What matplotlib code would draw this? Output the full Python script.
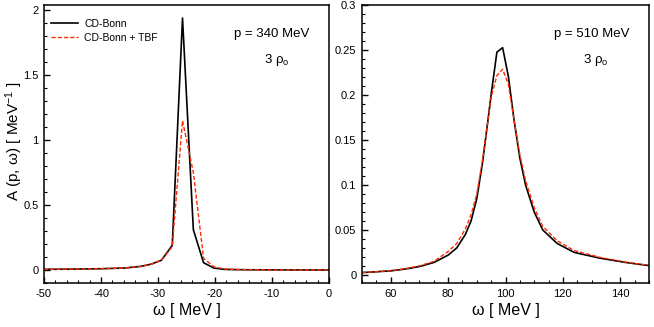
import matplotlib
matplotlib.use("Agg")
import matplotlib.pyplot as plt
from matplotlib.ticker import MultipleLocator, FormatStrFormatter

plt.rcParams["font.family"] = ["Liberation Sans", "DejaVu Sans"]
plt.rcParams["mathtext.fontset"] = "custom"
plt.rcParams["mathtext.rm"] = "Liberation Sans"
plt.rcParams["mathtext.it"] = "Liberation Sans"
plt.rcParams["axes.unicode_minus"] = False

# p = 340 MeV panel
omega_340 = [-50, -45, -40, -36, -34.8, -33.0, -31.2, -29.4, -27.5, -25.7, -23.8, -22.0, -20.2, -18.4, -16.5, -14, -10, -5, 0]
cdb_340 = [0.005, 0.007, 0.010, 0.015, 0.020, 0.028, 0.045, 0.075, 0.19, 1.94, 0.31, 0.056, 0.015, 0.005, 0.003, 0.002, 0.001, 0.0007, 0.0005]
tbf_340 = [0.005, 0.007, 0.010, 0.015, 0.020, 0.028, 0.045, 0.075, 0.18, 1.15, 0.75, 0.09, 0.025, 0.008, 0.004, 0.002, 0.001, 0.0007, 0.0005]

# p = 510 MeV panel
omega_510 = [50, 55, 60, 65, 70, 75, 80, 83, 86, 88, 90, 92, 94, 95, 97, 99, 101, 103, 105, 107, 110, 113, 118, 124, 133, 142, 150]
cdb_510 = [0.0026, 0.0035, 0.0045, 0.0065, 0.0093, 0.0138, 0.022, 0.030, 0.045, 0.060, 0.085, 0.125, 0.175, 0.201, 0.248, 0.253, 0.221, 0.172, 0.130, 0.100, 0.070, 0.050, 0.035, 0.025, 0.0186, 0.0138, 0.0104]
tbf_510 = [0.0026, 0.0036, 0.0047, 0.0069, 0.0100, 0.0150, 0.026, 0.035, 0.051, 0.067, 0.090, 0.128, 0.175, 0.198, 0.222, 0.229, 0.212, 0.172, 0.134, 0.105, 0.075, 0.054, 0.038, 0.027, 0.0195, 0.0142, 0.0106]

red = "#ff2a00"

fig = plt.figure(figsize=(6.54, 3.27), dpi=100)
ax1 = fig.add_axes([44 / 654, 44 / 327, 285 / 654, 278 / 327])
ax2 = fig.add_axes([362 / 654, 44 / 327, 287 / 654, 278 / 327])

ax1.plot(omega_340, cdb_340, color="black", lw=1.2, label="CD-Bonn")
ax1.plot(omega_340, tbf_340, color=red, lw=1.0, ls=(0, (3, 1.5)), label="CD-Bonn + TBF")
ax2.plot(omega_510, cdb_510, color="black", lw=1.2)
ax2.plot(omega_510, tbf_510, color=red, lw=1.0, ls=(0, (3, 1.5)))

ax1.set_xlim(-50, 0)
ax1.set_ylim(-0.1, 2.04)
ax1.xaxis.set_major_locator(MultipleLocator(10))
ax1.xaxis.set_minor_locator(MultipleLocator(2))
ax1.yaxis.set_major_locator(MultipleLocator(0.5))
ax1.yaxis.set_minor_locator(MultipleLocator(0.1))
ax1.yaxis.set_major_formatter(FormatStrFormatter("%g"))

ax2.set_xlim(50, 150)
ax2.set_ylim(-0.009, 0.3005)
ax2.xaxis.set_major_locator(MultipleLocator(20))
ax2.xaxis.set_minor_locator(MultipleLocator(5))
ax2.yaxis.set_major_locator(MultipleLocator(0.05))
ax2.yaxis.set_minor_locator(MultipleLocator(0.01))
ax2.yaxis.set_major_formatter(FormatStrFormatter("%g"))

for ax in (ax1, ax2):
    for s in ax.spines.values():
        s.set_linewidth(1.1)
    ax.tick_params(which="both", direction="in", top=False, right=False, labelsize=8, pad=4)
    ax.tick_params(which="major", length=4, width=1.0)
    ax.tick_params(which="minor", length=2.2, width=0.8)
    ax.set_xlabel("ω [ MeV ]", fontsize=11.5, labelpad=3)

ax1.set_ylabel("A (p, ω) [ MeV$^{-1}$ ]", fontsize=11)
ax1.yaxis.set_label_coords(-0.068, 0.51)

ax1.legend(loc="upper left", frameon=False, fontsize=7.5, handlelength=2.6,
           handletextpad=0.6, borderaxespad=0.0, labelspacing=0.35,
           bbox_to_anchor=(0.01, 0.965))

ax1.text(0.8, 0.885, "p = 340 MeV", transform=ax1.transAxes, ha="center", fontsize=9.5)
ax1.text(0.815, 0.79, "3 ρ$_{\\mathrm{o}}$", transform=ax1.transAxes, ha="center", fontsize=9.5)
ax2.text(0.80, 0.885, "p = 510 MeV", transform=ax2.transAxes, ha="center", fontsize=9.5)
ax2.text(0.815, 0.79, "3 ρ$_{\\mathrm{o}}$", transform=ax2.transAxes, ha="center", fontsize=9.5)

fig.savefig("out.png", dpi=100)
